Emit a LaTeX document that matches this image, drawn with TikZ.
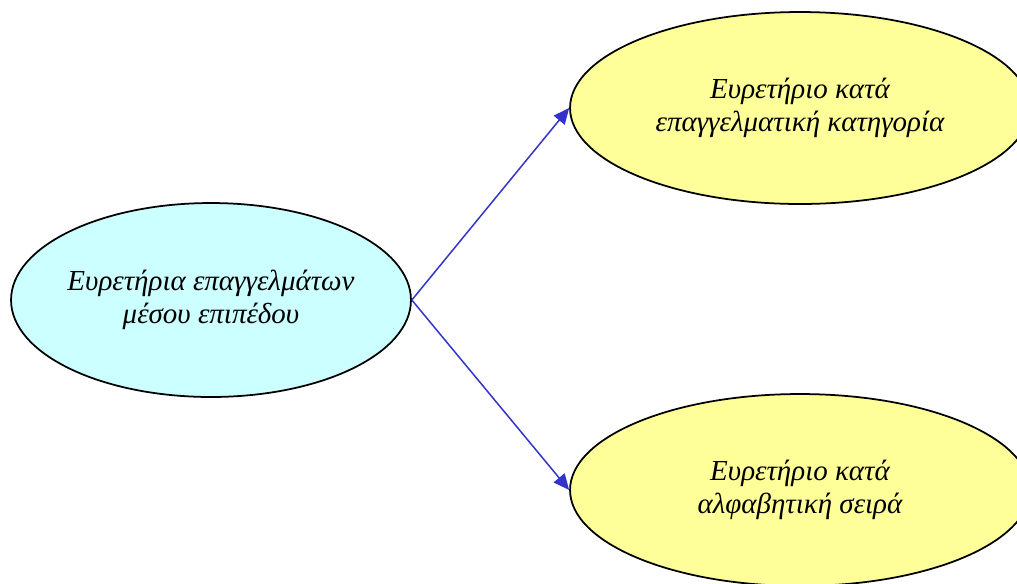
\documentclass[tikz,border=0pt]{standalone}
\usepackage{fontspec}
\setmainfont{Liberation Serif}
\usetikzlibrary{arrows.meta,shapes.geometric}
\definecolor{hubfill}{HTML}{CCFFFF}
\definecolor{leaffill}{HTML}{FFFF99}
\definecolor{linkblue}{HTML}{3333CC}
\begin{document}
\begin{tikzpicture}[x=0.02cm, y=-0.02cm,
  bubble/.style={ellipse, draw=black, line width=1pt, align=center,
    font=\fontsize{16.5}{19}\selectfont\itshape, inner ysep=0pt, inner xsep=-8pt},
  link/.style={draw=linkblue, line width=0.85pt, -{Triangle[length=9pt,width=8pt]}}]
  \clip (0,0) rectangle (1017,583);
  \node[bubble, fill=hubfill, minimum width=8cm, minimum height=3.88cm] (hub) at (211,300)
    {Ευρετήρια επαγγελμάτων\\μέσου επιπέδου};
  \node[bubble, fill=leaffill, minimum width=9.2cm, minimum height=3.84cm] (cat) at (800,108)
    {Ευρετήριο κατά\\επαγγελματική κατηγορία};
  \node[bubble, fill=leaffill, minimum width=9.2cm, minimum height=3.84cm] (alpha) at (800,490)
    {Ευρετήριο κατά\\αλφαβητική σειρά};
  % συνδέσεις
  \draw[link] (hub.east) -- (cat.west);
  \draw[link] (hub.east) -- (alpha.west);
\end{tikzpicture}
\end{document}
